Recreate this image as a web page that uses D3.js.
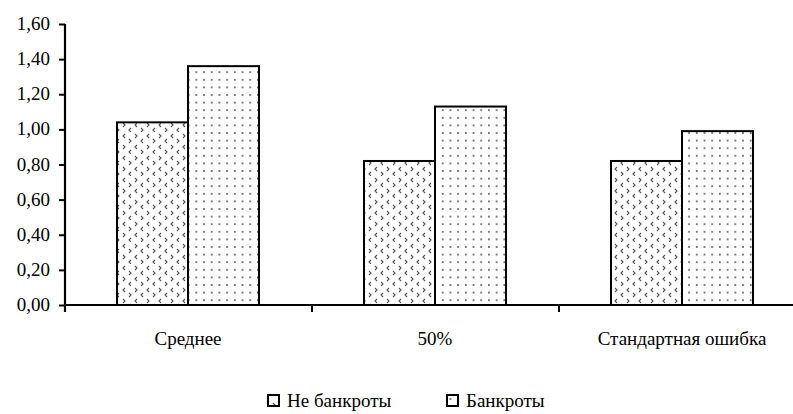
<!DOCTYPE html>
<html><head><meta charset="utf-8">
<script src="https://cdn.jsdelivr.net/npm/d3@7/dist/d3.min.js"></script>
</head><body style="margin:0"><svg id="c" width="793" height="414" font-family="Liberation Serif" style="display:block"></svg>
<script>
const categories = ["Среднее", "50%", "Стандартная ошибка"];
const seriesNames = ["Не банкроты", "Банкроты"];
const nonBankrupt = [1.04, 0.82, 0.82];
const bankrupt = [1.36, 1.13, 0.99];
const yTicks = [0, 0.2, 0.4, 0.6, 0.8, 1.0, 1.2, 1.4, 1.6];

const FS = 19;
const svg = d3.select("#c");
const defs = svg.append("defs");
// chevron pattern
const p1 = defs.append("pattern").attr("id","pChev").attr("patternUnits","userSpaceOnUse")
  .attr("width",24).attr("height",22);
p1.append("rect").attr("width",24).attr("height",22).attr("fill","#fff");
const chev = (g,x,y,dir)=> g.append("path")
  .attr("d", dir<0 ? `M${x+2},${y-2} L${x},${y} L${x+2},${y+2}` : `M${x},${y-2} L${x+2},${y} L${x},${y+2}`)
  .attr("fill","none").attr("stroke","#555").attr("stroke-width",1.1);
chev(p1,3,4,-1); chev(p1,15,4,1); chev(p1,9,9,1); chev(p1,21,9,-1);
chev(p1,3,15,1); chev(p1,15,15,-1); chev(p1,9,20,-1); chev(p1,21,20,1);
// dot pattern
const p2 = defs.append("pattern").attr("id","pDot").attr("patternUnits","userSpaceOnUse")
  .attr("width",7.7).attr("height",7.6);
p2.append("rect").attr("width",7.7).attr("height",7.6).attr("fill","#fff");
p2.append("rect").attr("x",3).attr("y",3).attr("width",1.6).attr("height",1.6).attr("fill","#444");
const fills = ["url(#pChev)","url(#pDot)"];

const y = d3.scaleLinear().domain([0,1.6]).range([305,24]);
const x0 = d3.scaleBand().domain(categories).range([65, 806]).padding(0);
const x1 = d3.scaleBand().domain(seriesNames).range([52, 194]).padding(0);

const data = categories.map((c,i)=>({cat:c, vals:[nonBankrupt[i], bankrupt[i]]}));

const g = svg.append("g");
data.forEach(d=>{
  d.vals.forEach((v,j)=>{
    g.append("rect")
      .attr("x", x0(d.cat)+x1(seriesNames[j]))
      .attr("y", y(v))
      .attr("width", x1.bandwidth())
      .attr("height", y(0)-y(v))
      .attr("fill", fills[j])
      .attr("stroke","#000").attr("stroke-width",2);
  });
});

// Y axis
const yAxis = d3.axisLeft(y).tickValues(yTicks).tickSize(6).tickSizeOuter(0).tickFormat("");
const ya = svg.append("g").attr("transform","translate(65,0)").call(yAxis);
ya.attr("font-family", null);
ya.select(".domain").attr("stroke","#000").attr("stroke-width",2.2)
  .attr("d","M0,24V312");
ya.selectAll(".tick line").attr("stroke","#000").attr("stroke-width",2);
ya.selectAll(".tick text").remove();
const fmt = d => d3.format(".2f")(d).replace(".",",");
yTicks.forEach(t=>{
  svg.append("text").attr("x",50).attr("y",y(t)+6).attr("text-anchor","end")
    .attr("font-size",FS).text(fmt(t));
});

// X axis
svg.append("line").attr("x1",65).attr("x2",806).attr("y1",305).attr("y2",305)
  .attr("stroke","#000").attr("stroke-width",2.2);
categories.slice(1).forEach(c=>{
  svg.append("line").attr("x1",x0(c)).attr("x2",x0(c)).attr("y1",305).attr("y2",312)
    .attr("stroke","#000").attr("stroke-width",2);
});
categories.forEach(c=>{
  svg.append("text").attr("x",x0(c)+x1.range()[0]+x1.bandwidth()).attr("y",345)
    .attr("text-anchor","middle").attr("font-size",FS).text(c);
});

// Legend
const legX = [267, 446];
seriesNames.forEach((s,j)=>{
  svg.append("rect").attr("x",legX[j]+1).attr("y",395).attr("width",11).attr("height",11)
    .attr("fill",fills[j]).attr("stroke","#000").attr("stroke-width",2);
  svg.append("text").attr("x",legX[j]+20).attr("y",407).attr("font-size",FS).text(s);
});
</script></body></html>
